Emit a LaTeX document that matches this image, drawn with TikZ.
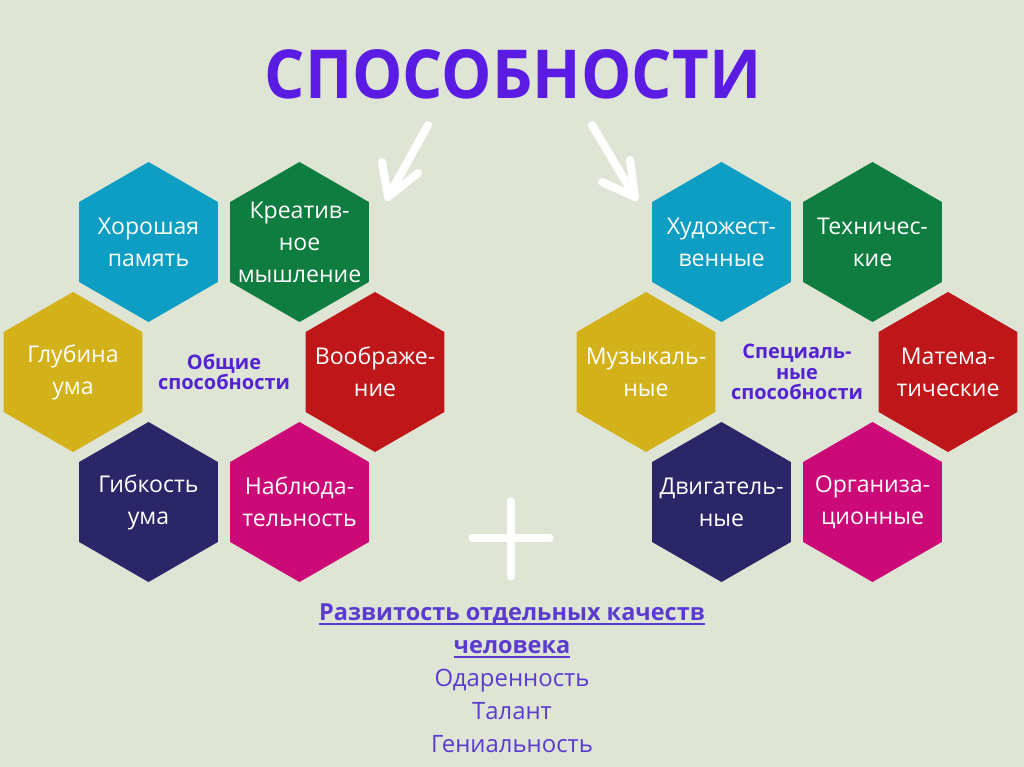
\documentclass[tikz,border=0pt]{standalone}
\usepackage{fontspec}
\setmainfont{Open Sans}
\usetikzlibrary{shapes.geometric,positioning}

\definecolor{pagebg}{HTML}{DFE5D4}
\definecolor{hexcyan}{HTML}{0E9EC3}
\definecolor{hexgreen}{HTML}{0F7D40}
\definecolor{hexyellow}{HTML}{D3B11B}
\definecolor{hexred}{HTML}{BF1619}
\definecolor{hexnavy}{HTML}{2B2668}
\definecolor{hexpink}{HTML}{CC0A77}
\definecolor{titlepurple}{HTML}{5A1BE3}
\definecolor{hubpurple}{HTML}{5322D2}
\definecolor{notepurple}{HTML}{5B3BCF}

% underline at a fixed depth, so descenders cross it
\newcommand{\ultext}[1]{\setbox0\hbox{#1}\rlap{\rule[-3.2pt]{\wd0}{1.1pt}}\box0}

\begin{document}
\begin{tikzpicture}[
    x=0.025cm, y=-0.025cm,
    hexcell/.style={regular polygon, regular polygon sides=6, shape border rotate=30, minimum size=4cm, inner sep=-0.8cm, outer sep=0pt, align=center, text=white, font=\fontsize{16.4}{22.8}\selectfont},
    hublabel/.style={align=center, text=hubpurple, font=\bfseries\fontsize{14.2}{14.6}\selectfont},
    chalk/.style={draw=white, line width=5.7pt, line cap=round, line join=round},
]
    \fill [pagebg] (0,0) rectangle (1024,767);
    \useasboundingbox (0,0) rectangle (1024,767);

    \node [text=titlepurple, font=\bfseries\fontsize{48}{55}\selectfont] (title) at (513,74) {\scalebox{0.94}[1]{СПОСОБНОСТИ}};

    % general abilities
    \node [hublabel] (general) at (224,372) {Общие\\способности};
    \node [hexcell, fill=hexcyan] (memory) at ([shift={(-75.5,-130)}]general) {Хорошая\\память};
    \node [hexcell, fill=hexgreen] (creative) at ([shift={(75.5,-130)}]general) {Креатив-\\ное\\мышление};
    \node [hexcell, fill=hexyellow] (depth) at ([shift={(-151,0)}]general) {Глубина\\ума};
    \node [hexcell, fill=hexred] (fantasy) at ([shift={(151,0)}]general) {Воображе-\\ние};
    \node [hexcell, fill=hexnavy] (flex) at ([shift={(-75.5,130)}]general) {Гибкость\\ума};
    \node [hexcell, fill=hexpink] (observe) at ([shift={(75.5,130)}]general) {Наблюда-\\тельность};

    % special abilities
    \node [hublabel] (special) at (797,372) {Специаль-\\ные\\способности};
    \node [hexcell, fill=hexcyan] (art) at ([shift={(-75.5,-130)}]special) {Художест-\\венные};
    \node [hexcell, fill=hexgreen] (tech) at ([shift={(75.5,-130)}]special) {Техничес-\\кие};
    \node [hexcell, fill=hexyellow] (music) at ([shift={(-151,0)}]special) {Музыкаль-\\ные};
    \node [hexcell, fill=hexred] (math) at ([shift={(151,0)}]special) {Матема-\\тические};
    \node [hexcell, fill=hexnavy] (motor) at ([shift={(-75.5,130)}]special) {Двигатель-\\ные};
    \node [hexcell, fill=hexpink] (organize) at ([shift={(75.5,130)}]special) {Организа-\\ционные};

    % hand drawn arrows
    \coordinate (ltail) at (428,125);
    \coordinate (ltip) at (388,197);
    \coordinate (lwingA) at (382,162);
    \coordinate (lwingB) at (418,173);
    \draw [chalk] (ltail) -- (ltip);
    \draw [chalk] (lwingA) -- (ltip) -- (lwingB);

    \coordinate (rtail) at (592,125);
    \coordinate (rtip) at (635,197);
    \coordinate (rwingA) at (602,182);
    \coordinate (rwingB) at (630,160);
    \draw [chalk] (rtail) -- (rtip);
    \draw [chalk] (rwingA) -- (rtip) -- (rwingB);

    % plus
    \coordinate (ptop) at (511,501);
    \coordinate (pbot) at (511,577);
    \coordinate (pleft) at (472,538);
    \coordinate (pright) at (550,538);
    \draw [chalk, line width=5pt] (ptop) -- (pbot);
    \draw [chalk, line width=5pt] (pleft) -- (pright);

    \node [align=center, text=notepurple, font=\fontsize{17}{23.5}\selectfont] (traits) at (512,678)
        {{\bfseries\fontsize{16.7}{23.5}\selectfont\ultext{Развитость отдельных качеств}}\\
         {\bfseries\fontsize{16.7}{23.5}\selectfont\ultext{человека}}\\
         Одаренность\\Талант\\Гениальность};
\end{tikzpicture}
\end{document}
